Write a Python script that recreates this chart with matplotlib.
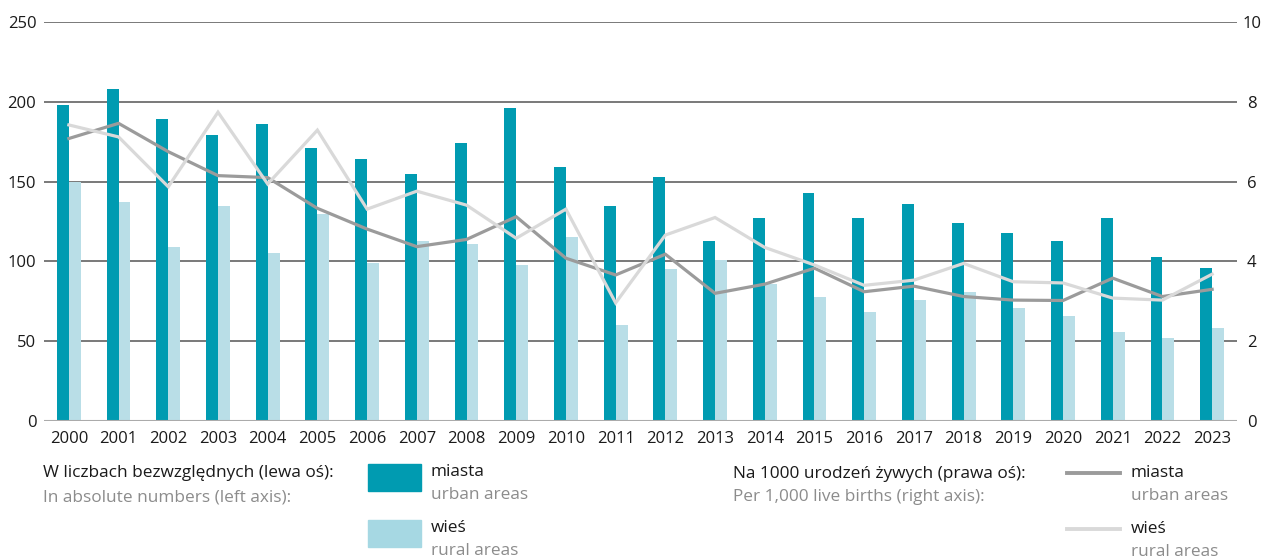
import matplotlib.pyplot as plt
import matplotlib.patches as mpatches
from matplotlib.lines import Line2D
import numpy as np

years = [str(y) for y in range(2000, 2024)]
urban_abs = [198, 208, 189, 179, 186, 171, 164, 155, 174, 196, 159, 135,
             153, 113, 127, 143, 127, 136, 124, 118, 113, 127, 103, 96]
rural_abs = [150, 137, 109, 135, 105, 130, 99, 113, 111, 98, 115, 60,
             95, 101, 86, 78, 68, 76, 81, 71, 66, 56, 52, 58]
urban_rate = [7.08, 7.46, 6.75, 6.15, 6.10, 5.33, 4.81, 4.37, 4.55, 5.12, 4.08, 3.66,
              4.18, 3.20, 3.43, 3.83, 3.24, 3.38, 3.12, 3.03, 3.02, 3.58, 3.12, 3.30]
rural_rate = [7.42, 7.12, 5.87, 7.74, 5.94, 7.29, 5.31, 5.76, 5.41, 4.58, 5.31, 2.96,
              4.66, 5.10, 4.35, 3.91, 3.40, 3.53, 3.95, 3.49, 3.46, 3.08, 3.03, 3.68]

C_URBAN = "#009bb1"
C_RURAL = "#b9dee7"
C_RURAL_LEG = "#a6d8e3"
C_LURBAN = "#9b9b9b"
C_LRURAL = "#d9d9d9"
C_GRAY_TXT = "#8c8c8c"

plt.rcParams["font.family"] = ["Open Sans", "DejaVu Sans"]

fig = plt.figure(figsize=(12.69, 5.59), dpi=100)
W, H = 1269, 559
ax = fig.add_axes([44 / W, 1 - 421 / H, (1237 - 44) / W, (421 - 22) / H])

x = np.arange(len(years))
bw = 0.24
ax.bar(x - bw / 2, urban_abs, width=bw, color=C_URBAN, zorder=3)
ax.bar(x + bw / 2, rural_abs, width=bw, color=C_RURAL, zorder=3)

ax.set_xlim(-0.5, len(years) - 0.5)
ax.set_ylim(0, 250)
ax.set_yticks([0, 50, 100, 150, 200, 250])
for v in [50, 100, 150, 200, 250]:
    ax.axhline(v, color="#6e6e6e", linewidth=1.3, zorder=1)
ax.axhline(0, color="#ababab", linewidth=1.5, zorder=4)

for s in ax.spines.values():
    s.set_visible(False)
ax.set_xticks(x)
ax.set_xticklabels(years)
ax.tick_params(axis="both", length=0, labelsize=12, colors="#1a1a1a")
ax.tick_params(axis="x", pad=7)
ax.tick_params(axis="y", pad=5.5)

ax2 = ax.twinx()
ax2.set_ylim(0, 10)
ax2.set_yticks([0, 2, 4, 6, 8, 10])
for s in ax2.spines.values():
    s.set_visible(False)
ax2.tick_params(axis="y", length=0, labelsize=12, pad=10.5, colors="#1a1a1a")
for lab in ax2.get_yticklabels():
    lab.set_horizontalalignment("center")
ax2.plot(x, urban_rate, color=C_LURBAN, linewidth=2.3, zorder=5, solid_joinstyle="miter")
ax2.plot(x, rural_rate, color=C_LRURAL, linewidth=2.3, zorder=5, solid_joinstyle="miter")

# legend block
def fy(py):
    return 1 - py / H

fs = 12.4
fig.text(43 / W, fy(473), "W liczbach bezwzględnych (lewa oś):", fontsize=fs, color="#1a1a1a", va="center")
fig.text(43 / W, fy(497), "In absolute numbers (left axis):", fontsize=fs, color=C_GRAY_TXT, va="center")
fig.patches.append(mpatches.Rectangle((368 / W, fy(491)), 53 / W, 27 / H, color=C_URBAN, transform=fig.transFigure))
fig.patches.append(mpatches.Rectangle((368 / W, fy(547)), 53 / W, 27 / H, color=C_RURAL_LEG, transform=fig.transFigure))
fig.text(431 / W, fy(472), "miasta", fontsize=fs, color="#1a1a1a", va="center")
fig.text(431 / W, fy(495), "urban areas", fontsize=fs, color=C_GRAY_TXT, va="center")
fig.text(431 / W, fy(528), "wieś", fontsize=fs, color="#1a1a1a", va="center")
fig.text(431 / W, fy(551), "rural areas", fontsize=fs, color=C_GRAY_TXT, va="center")

fig.text(733 / W, fy(474), "Na 1000 urodzeń żywych (prawa oś):", fontsize=fs, color="#1a1a1a", va="center")
fig.text(733 / W, fy(497), "Per 1,000 live births (right axis):", fontsize=fs, color=C_GRAY_TXT, va="center")
fig.lines.append(Line2D([1067 / W, 1120 / W], [fy(473), fy(473)], color=C_LURBAN, linewidth=2.8, transform=fig.transFigure))
fig.lines.append(Line2D([1067 / W, 1120 / W], [fy(529), fy(529)], color=C_LRURAL, linewidth=2.8, transform=fig.transFigure))
fig.text(1131 / W, fy(473), "miasta", fontsize=fs, color="#1a1a1a", va="center")
fig.text(1131 / W, fy(496), "urban areas", fontsize=fs, color=C_GRAY_TXT, va="center")
fig.text(1131 / W, fy(529), "wieś", fontsize=fs, color="#1a1a1a", va="center")
fig.text(1131 / W, fy(552), "rural areas", fontsize=fs, color=C_GRAY_TXT, va="center")

fig.savefig("out.png", dpi=100)
